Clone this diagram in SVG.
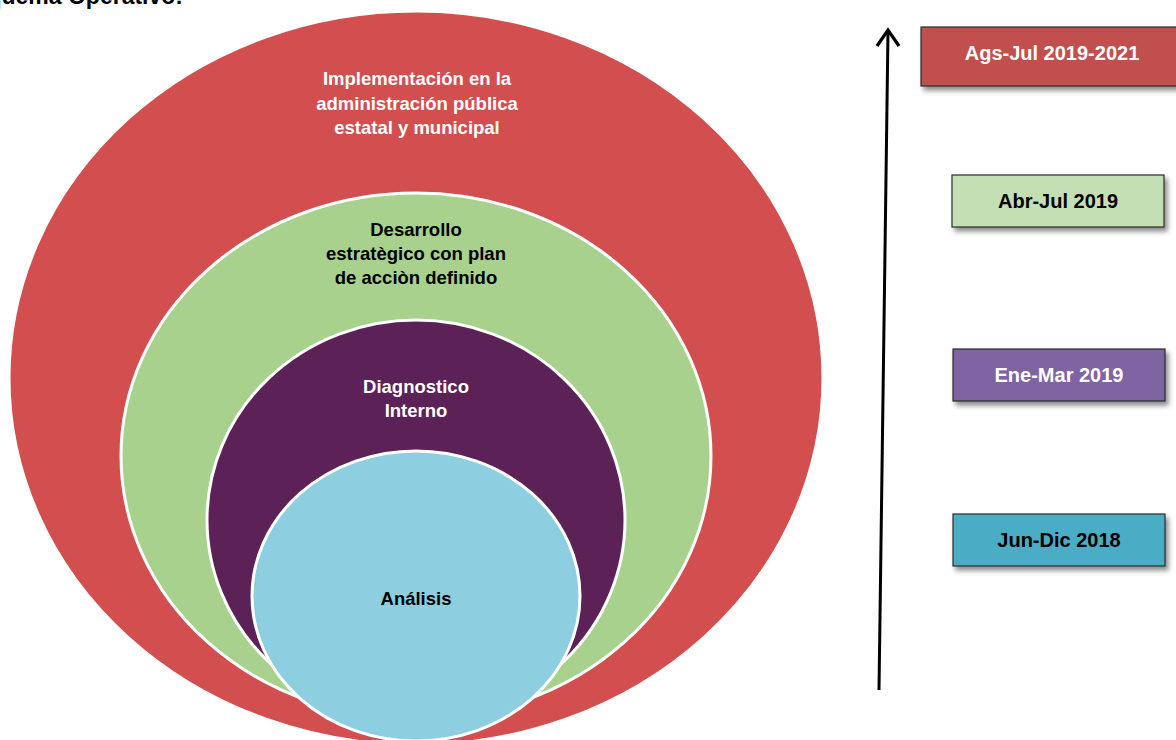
<svg xmlns="http://www.w3.org/2000/svg" width="1176" height="740" viewBox="0 0 1176 740">
<defs>
<style>
.t{font-family:"Liberation Sans",Arial,sans-serif;font-weight:bold;font-size:18.5px;text-anchor:middle}
.w{fill:#ffffff}
.k{fill:#000000}
.ring{stroke:#ffffff;stroke-width:3}
.box{stroke:#2b2b2b;stroke-width:1.2}
.bt{font-family:"Liberation Sans",Arial,sans-serif;font-weight:bold;font-size:20px;text-anchor:middle}
</style>
<filter id="sh" x="-10%" y="-20%" width="130%" height="160%">
<feDropShadow dx="3" dy="4" stdDeviation="2.5" flood-color="#000" flood-opacity="0.45"/>
</filter>
</defs>
<rect width="1176" height="740" fill="#ffffff"/>
<text x="183" y="4" font-family="Liberation Sans,Arial,sans-serif" font-weight="bold" font-size="23" text-anchor="end" fill="#000">Esquema Operativo:</text>

<g id="n-implementacion">
<ellipse class="ring" cx="416" cy="378" rx="407" ry="367" fill="#D34E4E"/>
<text class="t w"><tspan x="417" y="85">Implementación en la</tspan><tspan x="417" y="110">administración pública</tspan><tspan x="417" y="134">estatal y municipal</tspan></text>
</g>
<g id="n-desarrollo">
<ellipse class="ring" cx="416" cy="456" rx="295" ry="263" fill="#A9D18E"/>
<text class="t k"><tspan x="416" y="236">Desarrollo</tspan><tspan x="416" y="260">estratègico con plan</tspan><tspan x="416" y="284">de acciòn definido</tspan></text>
</g>
<g id="n-diagnostico">
<ellipse class="ring" cx="416" cy="520" rx="209" ry="200" fill="#5C2157"/>
<text class="t w"><tspan x="416" y="393">Diagnostico</tspan><tspan x="416" y="417">Interno</tspan></text>
</g>
<g id="n-analisis">
<ellipse class="ring" cx="416" cy="596" rx="164" ry="145" fill="#8DCFE0"/>
<text class="t k" x="416" y="605">Análisis</text>
</g>

<g id="connectors">
<line x1="879" y1="690" x2="888" y2="31" stroke="#000" stroke-width="3"/>
<polyline points="877,46 888,30 899,46" fill="none" stroke="#000" stroke-width="3.2" stroke-linejoin="miter"/>
</g>

<g id="b-ags">
<rect class="box" x="921" y="27" width="262" height="59" fill="#C0504D" filter="url(#sh)"/>
<text class="bt w" x="1052" y="60">Ags-Jul 2019-2021</text>
</g>
<g id="b-abr">
<rect class="box" x="952" y="175" width="212" height="52" fill="#C4DFB4" filter="url(#sh)"/>
<text class="bt k" x="1058" y="208">Abr-Jul 2019</text>
</g>
<g id="b-ene">
<rect class="box" x="953" y="349" width="212" height="52" fill="#8064A2" filter="url(#sh)"/>
<text class="bt w" x="1059" y="382">Ene-Mar 2019</text>
</g>
<g id="b-jun">
<rect class="box" x="953" y="514" width="212" height="52" fill="#4BACC6" filter="url(#sh)"/>
<text class="bt k" x="1059" y="547">Jun-Dic 2018</text>
</g>
</svg>
